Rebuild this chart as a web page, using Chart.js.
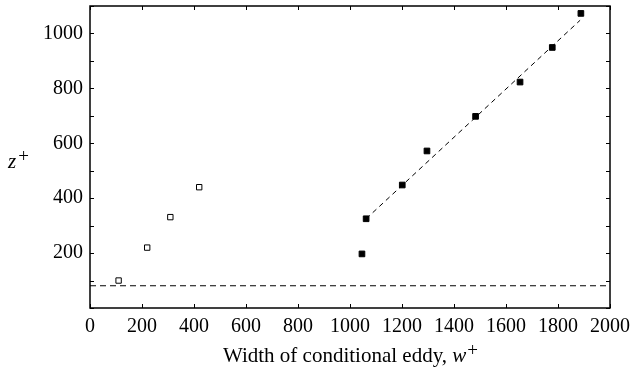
<!DOCTYPE html>
<html>
<head>
<meta charset="utf-8">
<script src="https://cdn.jsdelivr.net/npm/chart.js@4/dist/chart.umd.min.js"></script>
<style>
  html, body { margin: 0; padding: 0; background: #fff; }
</style>
</head>
<body>
<canvas id="myChart" width="632" height="370"></canvas>
<script>
// open squares
var openX = [110, 220, 309, 420];
var openY = [100, 220, 331, 440];
// filled squares
var fillX = [1046, 1062, 1201, 1296, 1483, 1654, 1778, 1888];
var fillY = [197, 325, 448, 572, 698, 823, 949, 1073];
// dashed fit line
var fitX = [1062, 1885];
var fitY = [325, 1048];
// horizontal dashed line
var hX = [0, 2000];
var hY = [81, 81];

function pts(xs, ys) {
	return xs.map(function(x, i){ return {x: x, y: ys[i]}; });
}

var serif = '"Liberation Serif", "Times New Roman", serif';

// frame, inward ticks and axis titles
var framePlugin = {
	id: 'frame',
	afterDraw: function(chart) {
		var ctx = chart.ctx;
		var a = chart.chartArea;
		var xs = chart.scales.x, ys = chart.scales.y;
		ctx.save();
		ctx.strokeStyle = '#000';
		ctx.lineWidth = 1.5;
		ctx.strokeRect(a.left, a.top, a.right - a.left, a.bottom - a.top);
		ctx.lineWidth = 1;
		xs.ticks.forEach(function(t){
			var px = Math.round(xs.getPixelForValue(t.value)) + 0.5;
			ctx.beginPath();
			ctx.moveTo(px, a.bottom); ctx.lineTo(px, a.bottom - 4);
			ctx.moveTo(px, a.top); ctx.lineTo(px, a.top + 4);
			ctx.stroke();
		});
		ys.ticks.forEach(function(t){
			var py = Math.round(ys.getPixelForValue(t.value)) + 0.5;
			ctx.beginPath();
			ctx.moveTo(a.left, py); ctx.lineTo(a.left + 4, py);
			ctx.moveTo(a.right, py); ctx.lineTo(a.right - 4, py);
			ctx.stroke();
		});

		// x title
		ctx.fillStyle = '#000';
		ctx.textBaseline = 'alphabetic';
		var t1 = 'Width of conditional eddy, ';
		ctx.font = '21px ' + serif;
		var w1 = ctx.measureText(t1).width;
		ctx.font = 'italic 21px ' + serif;
		var w2 = ctx.measureText('w').width;
		ctx.font = '19px ' + serif;
		var w3 = ctx.measureText('+').width;
		var x0 = (a.left + a.right) / 2 - (w1 + w2 + w3) / 2;
		var base = 362;
		ctx.font = '21px ' + serif;
		ctx.fillText(t1, x0, base);
		ctx.font = 'italic 21px ' + serif;
		ctx.fillText('w', x0 + w1, base);
		ctx.font = '19px ' + serif;
		ctx.fillText('+', x0 + w1 + w2 + 1, base - 6);

		// y title
		ctx.font = 'italic 21px ' + serif;
		ctx.fillText('z', 8, 168);
		var wz = ctx.measureText('z').width;
		ctx.font = '19px ' + serif;
		ctx.fillText('+', 8 + wz + 2, 162);
		ctx.restore();
	}
};

var ctx = document.getElementById('myChart').getContext('2d');
var chart = new Chart(ctx, {
	type: 'scatter',
	data: {
		datasets: [
			{
				data: pts(hX, hY),
				showLine: true,
				borderColor: '#000',
				borderWidth: 1,
				borderDash: [6, 4],
				pointRadius: 0
			},
			{
				data: pts(fitX, fitY),
				showLine: true,
				borderColor: '#000',
				borderWidth: 1,
				borderDash: [5, 4],
				pointRadius: 0
			},
			{
				data: pts(openX, openY),
				pointStyle: 'rect',
				pointRadius: 3.8,
				backgroundColor: '#fff',
				borderColor: '#000',
				borderWidth: 1
			},
			{
				data: pts(fillX, fillY),
				pointStyle: 'rect',
				pointRadius: 4,
				backgroundColor: '#000',
				borderColor: '#000',
				borderWidth: 1
			}
		]
	},
	options: {
		responsive: false,
		animation: false,
		layout: { padding: { left: 0, top: 6, right: 22, bottom: 0 } },
		plugins: {
			legend: { display: false },
			tooltip: { enabled: false }
		},
		scales: {
			x: {
				type: 'linear',
				min: 0, max: 2000,
				grid: { display: false, drawTicks: false },
				border: { display: false },
				ticks: {
					stepSize: 200,
					autoSkip: false,
					color: '#000',
					padding: 7,
					maxRotation: 0,
					font: { family: serif, size: 20 },
					callback: function(v){ return String(v); }
				},
				afterFit: function(s){
					s.height = 62;
					s.paddingLeft = 0; s.paddingRight = 0;
				}
			},
			y: {
				type: 'linear',
				min: 0, max: 1100,
				grid: { display: false, drawTicks: false },
				border: { display: false },
				ticks: {
					stepSize: 100,
					color: '#000',
					padding: 7,
					autoSkip: false,
					font: { family: serif, size: 20 },
					callback: function(v){ return (v > 0 && v % 200 === 0) ? String(v) : ''; }
				},
				afterFit: function(s){
					s.width = 90;
					s.paddingTop = 0; s.paddingBottom = 0;
				}
			}
		}
	},
	plugins: [framePlugin]
});
</script>
</body>
</html>
